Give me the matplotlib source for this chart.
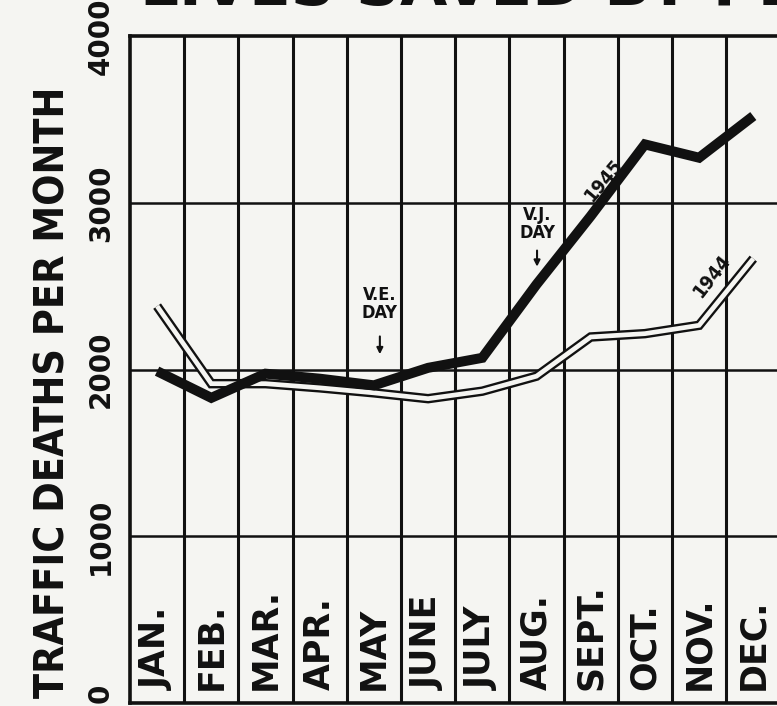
import matplotlib
matplotlib.use('Agg')
import matplotlib.pyplot as plt

# -------------------------------------------------------
# dados (lidos do recorte do jornal)
# -------------------------------------------------------

meses = ["JAN.", "FEB.", "MAR.", "APR.", "MAY", "JUNE",
         "JULY", "AUG.", "SEPT.", "OCT.", "NOV.", "DEC."]
mortes_1945 = [1990, 1830, 1975, 1945, 1905, 2010, 2070, 2510, 2920, 3350, 3270, 3520]
mortes_1944 = [2380, 1915, 1915, 1890, 1860, 1825, 1870, 1960, 2195, 2215, 2265, 2665]
y_ticks = [0, 1000, 2000, 3000, 4000]

PAPEL = '#f5f5f2'
TINTA = '#111111'
ESTREITA = dict(family='DejaVu Sans', fontstretch='condensed', fontweight='bold')

fig = plt.figure(figsize=(7.77, 7.06), dpi=100, facecolor=PAPEL)
ax = fig.add_axes([130 / 777, 3 / 706, 1 - 130 / 777, 667 / 706])
ax.set_facecolor(PAPEL)

xs = [i + 0.5 for i in range(len(meses))]
ax.set_xlim(0, 647 / 54.2)
ax.set_ylim(0, 4000)

# grade: colunas dos meses e linhas de 1000 em 1000
for i in range(1, len(meses)):
    ax.axvline(i, color=TINTA, lw=2.2, zorder=1)
for v in y_ticks[1:-1]:
    ax.axhline(v, color=TINTA, lw=1.8, zorder=1)

for lado in ['top', 'left', 'bottom']:
    ax.spines[lado].set_linewidth(2.6)
    ax.spines[lado].set_color(TINTA)
ax.spines['right'].set_visible(False)

# 1944: linha vazada (preta por fora, branca por dentro)
ax.plot(xs, mortes_1944, color=TINTA, lw=6.8, solid_joinstyle='miter',
        solid_capstyle='butt', zorder=3)
ax.plot(xs, mortes_1944, color=PAPEL, lw=3.4, solid_joinstyle='miter',
        solid_capstyle='butt', zorder=4)
# 1945: linha cheia grossa
ax.plot(xs, mortes_1945, color=TINTA, lw=7.2, solid_joinstyle='miter',
        solid_capstyle='butt', zorder=5)

# nomes dos meses dentro da faixa 0-1000
for x, m in zip(xs, meses):
    ax.text(x, 75, m, rotation=90, ha='center', va='bottom',
            fontsize=25, fontweight='heavy', color=TINTA, zorder=6)

ax.set_xticks([])
ax.set_yticks(y_ticks, [str(v) for v in y_ticks])
ax.tick_params(axis='y', length=0, pad=11)
for lbl in ax.get_yticklabels():
    lbl.set_rotation(90)
    lbl.set_va('center')
    lbl.set_fontsize(20)
    lbl.set_fontweight('heavy')
    lbl.set_color(TINTA)
ax.get_yticklabels()[0].set_va('bottom')

# anotacoes
ax.text(4.61, 2390, "V.E.\nDAY", ha='center', va='center', fontsize=13,
        linespacing=1.0, color=TINTA, **ESTREITA)
ax.annotate('', xy=(4.61, 2075), xytext=(4.61, 2215),
            arrowprops=dict(arrowstyle='-|>', color=TINTA, lw=1.5,
                            mutation_scale=9))
ax.text(7.51, 2870, "V.J.\nDAY", ha='center', va='center', fontsize=13,
        linespacing=1.0, color=TINTA, **ESTREITA)
ax.annotate('', xy=(7.51, 2600), xytext=(7.51, 2730),
            arrowprops=dict(arrowstyle='-|>', color=TINTA, lw=1.5,
                            mutation_scale=9))
ax.text(8.74, 3130, "1945", rotation=50, ha='center', va='center',
        fontsize=14, color=TINTA, **ESTREITA)
ax.text(10.74, 2560, "1944", rotation=52, ha='center', va='center',
        fontsize=14, color=TINTA, **ESTREITA)

# titulo do eixo y e titulo cortado no topo
fig.text(54 / 777, 1 - 392 / 706, "TRAFFIC DEATHS PER MONTH", rotation=90,
         ha='center', va='center', fontsize=29.5, color=TINTA,
         family='DejaVu Sans', fontstretch='condensed', fontweight='heavy')
fig.text(140 / 777, 1 - 5 / 706, "LIVES SAVED BY PEACE", ha='left',
         va='baseline', fontsize=44, fontweight='heavy', color=TINTA)

fig.savefig("out.png", dpi=100, facecolor=PAPEL)
